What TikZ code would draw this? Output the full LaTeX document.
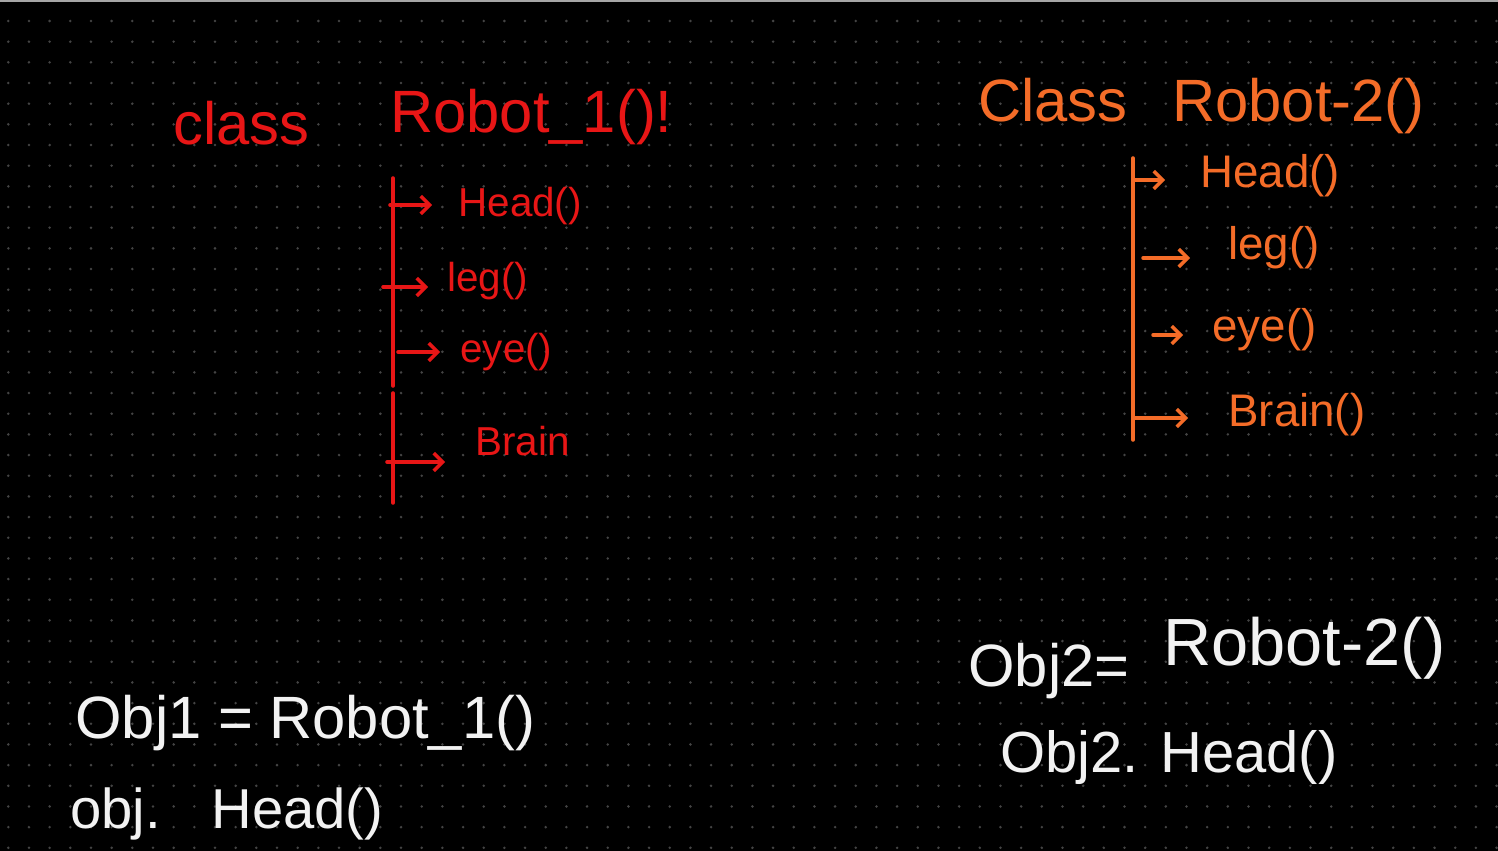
\documentclass[tikz,border=0pt]{standalone}
\usepackage{fontspec}
\setmainfont{Liberation Sans}
\usetikzlibrary{arrows.meta,positioning}

\definecolor{penred}{RGB}{232,22,22}
\definecolor{penorange}{RGB}{244,108,40}
\definecolor{chalk}{RGB}{242,242,242}
\definecolor{griddot}{RGB}{68,68,68}

\begin{document}
\begin{tikzpicture}[x=0.02cm, y=-0.02cm,
  title/.style = {anchor=base west, inner sep=0pt, font=\fontsize{34}{34}\selectfont},
  item/.style = {anchor=west, inner sep=0pt, font=\fontsize{26}{26}\selectfont},
  code/.style = {anchor=base west, inner sep=0pt, text=chalk, font=\fontsize{34}{34}\selectfont},
  stem/.style = {line width=2pt, line cap=round},
  arr/.style = {line width=2pt, line cap=round, -{Straight Barb[length=5pt,width=10pt]}}]
\useasboundingbox (0,0) rectangle (1498,851);
% board
\fill[black] (0,0) rectangle (1498,851);
\draw[gray!70, line width=1pt] (0,1) -- (1498,1);
\foreach \i in {0,...,72}
  \foreach \j in {0,...,40}
    \fill[griddot] (8.3+20.67*\i, 21+20.67*\j) circle (0.8pt);

% class Robot_1
\node[title, text=penred] (cls1) at (173,145) {class};
\node[title, text=penred] (name1) at (390,133) {Robot\_1()!};
\coordinate (top1) at (393,178);
\coordinate (gap1) at (393,386);
\coordinate (gap1b) at (393,393);
\coordinate (bot1) at (393,503);
\draw[stem, penred] (top1) -- (gap1);
\draw[stem, penred] (gap1b) -- (bot1);
\foreach \nm/\sx/\g/\tx/\ay/\ty/\txt in {
    h1/390/26/458/205/206/Head(),
    l1/383/19/447/287/281/leg(),
    e1/398/20/460/352/352/eye(),
    b1/387/30/475/462/441/Brain}
{
  \coordinate (s\nm) at (\sx,\ay);
  \node[item, text=penred, font=\fontsize{23}{23}\selectfont] (\nm) at (\tx,\ty) {\txt};
  \draw[arr, penred, shorten >={\g*0.02cm}] (s\nm) -- (s\nm -| \nm.west);
}

% Class Robot-2
\node[title, text=penorange] (cls2) at (978,122) {Class};
\node[title, text=penorange] (name2) at (1172,122) {Robot-2()};
\coordinate (top2) at (1133,158);
\coordinate (bot2) at (1133,440);
\draw[stem, penorange] (top2) -- (bot2);
\foreach \nm/\sx/\g/\tx/\ay/\ty/\txt in {
    h2/1135/35/1200/180/176/Head(),
    l2/1143/38/1228/258/248/leg(),
    e2/1153/29/1212/335/330/eye(),
    b2/1133/40/1228/418/415/Brain()}
{
  \coordinate (s\nm) at (\sx,\ay);
  \node[item, text=penorange] (\nm) at (\tx,\ty) {\txt};
  \draw[arr, penorange, shorten >={\g*0.02cm}] (s\nm) -- (s\nm -| \nm.west);
}

% objects
\node[code] (obj1) at (75,738) {Obj1 = Robot\_1()};
\node[code, font=\fontsize{32}{32}\selectfont] (call1) at (70,828) {obj.\hspace{0.9em}Head()};
\node[code] (obj2) at (968,686) {Obj2=};
\node[code, font=\fontsize{38}{38}\selectfont] (new2) at (1163,665) {Robot-2()};
\node[code, font=\fontsize{33}{33}\selectfont] (call2) at (1000,772) {Obj2. Head()};
\end{tikzpicture}
\end{document}
